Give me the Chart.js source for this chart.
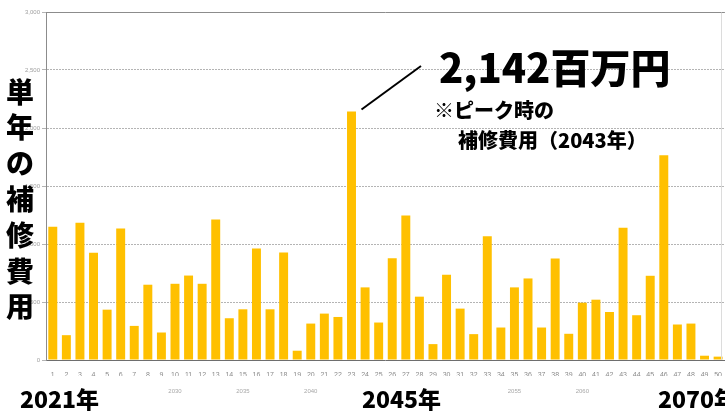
<!DOCTYPE html>
<html>
<head>
<meta charset="utf-8">
<script src="https://cdn.jsdelivr.net/npm/chart.js@4/dist/chart.umd.min.js"></script>
<style>
  body { margin: 0; background: #fff; }
  #wrap { width: 725px; height: 415px; }
</style>
</head>
<body>
<div id="wrap"><canvas id="chart" width="725" height="415"></canvas></div>
<script>
// 年次番号 (2021年=1 ... 2070年=50)
var categories = ['1','2','3','4','5','6','7','8','9','10',
  '11','12','13','14','15','16','17','18','19','20',
  '21','22','23','24','25','26','27','28','29','30',
  '31','32','33','34','35','36','37','38','39','40',
  '41','42','43','44','45','46','47','48','49','50'];

// 単年の補修費用 (百万円)
var repairCost = [1148, 214, 1183, 925, 434, 1134, 294, 649, 237, 657,
  728, 657, 1211, 360, 437, 962, 437, 926, 80, 314,
  400, 371, 2142, 626, 323, 877, 1246, 546, 137, 734,
  443, 223, 1066, 280, 626, 703, 280, 874, 226, 494,
  520, 414, 1140, 386, 726, 1766, 306, 314, 37, 29];

// 下段の小さな年ラベル
var yearRow = ['','','','','','','','','','2030',
  '','','','','2035','','','','','2040',
  '','','','','','','','','','',
  '','','','','2055','','','','','2060',
  '','','','','','','','','',''];

var yTicks = [0, 500, 1000, 1500, 2000, 2500, 3000];
var peakIndex = 22;
var peakText = '2,142百万円';
var noteLines = ['※ピーク時の', '補修費用（2043年）'];
var axisTitle = ['単', '年', 'の', '補', '修', '費', '用'];
var bottomYears = [['2021年', 20], ['2045年', 362], ['2070年', 658]];

var JP = '"Noto Sans CJK JP", "Noto Sans", sans-serif';

var overlay = {
  id: 'overlay',
  afterDraw: function(chart) {
    var ctx = chart.ctx;
    var area = chart.chartArea;
    var y = chart.scales.y;
    var x = chart.scales.x;
    ctx.save();

    // 上端の実線と右端の薄い線
    var topY = Math.round(y.getPixelForValue(3000)) + 0.5;
    ctx.strokeStyle = '#8c8c8c';
    ctx.lineWidth = 1;
    ctx.beginPath();
    ctx.moveTo(area.left, topY);
    ctx.lineTo(area.right, topY);
    ctx.stroke();
    ctx.strokeStyle = '#dcdcdc';
    ctx.beginPath();
    ctx.moveTo(721.5, topY);
    ctx.lineTo(721.5, area.bottom);
    ctx.stroke();

    ctx.fillStyle = '#000';
    ctx.textBaseline = 'middle';

    // 縦書きの軸タイトル
    ctx.textAlign = 'center';
    ctx.font = '900 28px ' + JP;
    axisTitle.forEach(function(ch, i) {
      ctx.fillText(ch, 20, 92 + i * 35.8);
    });

    // 下の大きな年
    ctx.textAlign = 'left';
    ctx.font = '900 23px ' + JP;
    bottomYears.forEach(function(b) {
      ctx.fillText(b[0], b[1], 399);
    });

    // ピークの注記
    var px = x.getPixelForValue(peakIndex);
    var py = y.getPixelForValue(repairCost[peakIndex]);
    ctx.strokeStyle = '#000';
    ctx.lineWidth = 2;
    ctx.beginPath();
    ctx.moveTo(px + 10, py - 2);
    ctx.lineTo(421, 66);
    ctx.stroke();

    ctx.font = '900 40px ' + JP;
    ctx.fillText(peakText, 439, 68);
    ctx.font = '900 20px ' + JP;
    ctx.fillText(noteLines[0], 434, 110);
    ctx.fillText(noteLines[1], 458, 140);
    ctx.restore();
  }
};

new Chart(document.getElementById('chart'), {
  type: 'bar',
  data: {
    labels: categories,
    datasets: [{
      data: repairCost,
      backgroundColor: '#FFC000',
      borderWidth: 0,
      barPercentage: 0.66,
      categoryPercentage: 1
    }]
  },
  options: {
    responsive: false,
    animation: false,
    layout: { padding: { top: 12, bottom: 19, left: 0, right: 0 } },
    plugins: { legend: { display: false }, tooltip: { enabled: false } },
    scales: {
      x: {
        grid: { display: false },
        border: { color: '#6e6e6e', width: 1 },
        ticks: { autoSkip: false, maxRotation: 0, padding: 3, color: '#8a8a8a',
                 font: { size: 7, family: 'Arial, "Liberation Sans"' } },
        afterFit: function(s) { s.height = 16; }
      },
      x2: {
        type: 'category',
        labels: yearRow,
        position: 'bottom',
        grid: { display: false },
        border: { display: false },
        ticks: { autoSkip: false, maxRotation: 0, padding: 4, color: '#a8a8a8',
                 font: { size: 6, family: 'Arial, "Liberation Sans"' } },
        afterFit: function(s) { s.height = 20; }
      },
      y: {
        min: 0,
        max: 3000,
        afterBuildTicks: function(s) { s.ticks = yTicks.map(function(v) { return { value: v }; }); },
        grid: { color: '#b4b4b4', tickLength: 4 },
        border: { color: '#8c8c8c', dash: [2, 1] },
        ticks: { color: '#a0a0a0', padding: 2,
                 font: { size: 6, family: 'Arial, "Liberation Sans"' },
                 callback: function(v) { return v.toLocaleString('en-US'); } },
        afterFit: function(s) { s.width = 46; }
      }
    }
  },
  plugins: [overlay]
});
</script>
</body>
</html>
